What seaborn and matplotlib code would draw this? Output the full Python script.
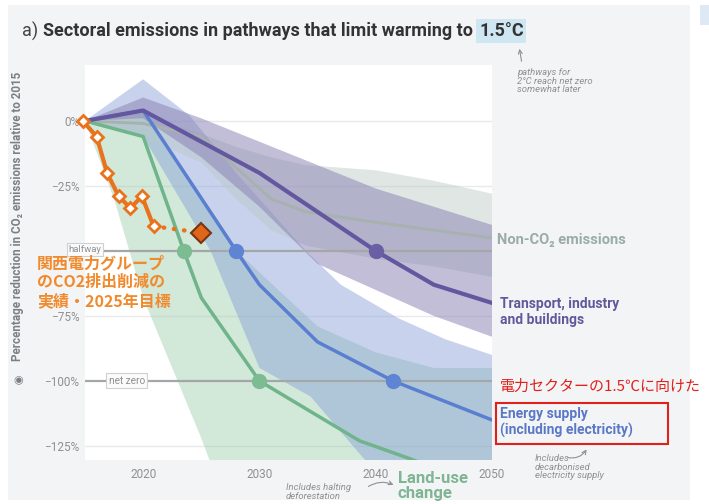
import numpy as np
import pandas as pd
import matplotlib
matplotlib.use("Agg")
import matplotlib.pyplot as plt
from matplotlib.patches import Rectangle, FancyArrowPatch
import seaborn as sns

# --- data (% change in CO2 vs 2015) ---
nonco2_years = [2015, 2020, 2025, 2028, 2031, 2034, 2040, 2045, 2050]
nonco2_mid = [0, -1, -6, -18, -30, -35, -39, -42, -45]
nonco2_hi = [0, 3, -5, -10, -14, -17, -19, -23, -28]
nonco2_lo = [0, -6, -16, -30, -42, -48, -53, -56, -60]

tib_years = [2015, 2020, 2030, 2040, 2045, 2050]
tib_mid = [0, 4, -20, -50, -63, -70]
tib_band_years = [2015, 2020, 2025, 2030, 2035, 2040, 2045, 2050]
tib_hi = [0, 9, 1, -8, -17, -26, -33, -40]
tib_lo = [0, 1, -14, -33, -55, -65, -75, -83]

energy_years = [2015, 2020, 2028, 2030, 2035, 2041.5, 2050]
energy_mid = [0, 4, -50, -63, -85, -100, -115]
energy_hi_years = [2015, 2020, 2024, 2028, 2034, 2037, 2042, 2046, 2050]
energy_hi = [0, 16, 2, -20, -50, -63, -76, -84, -90]
energy_lo_years = [2015, 2020, 2025.8, 2030, 2034.4, 2039, 2050]
energy_lo = [0, -6, -50, -95, -106, -130, -160]

land_years = [2015, 2020, 2023.5, 2025, 2030, 2038.6, 2043, 2050]
land_mid = [0, -6, -50, -68, -100, -123, -130, -142]
land_hi_years = [2015, 2020, 2024, 2028.5, 2035, 2040, 2045, 2050]
land_hi = [0, 3, -22, -52, -79, -89, -95, -95]
land_lo_years = [2015, 2017.5, 2020, 2025, 2026.5, 2050]
land_lo = [0, -30, -68, -122, -140, -160]

# milestone dots (halfway / net zero crossings)
land_dot_x = [2023.5, 2030]
land_dot_y = [-50, -100]
energy_dot_x = [2028, 2041.5]
energy_dot_y = [-50, -100]
tib_dot_x = [2040]
tib_dot_y = [-50]

# Kansai Electric group record and 2025 target
kansai_years = [2014.8, 2016.0, 2016.9, 2017.9, 2018.9, 2019.9, 2020.9]
kansai_vals = [0, -6, -20, -29, -33.5, -29, -40.5]
target_year = 2025.0
target_val = -43

ytick_vals = [0, -25, -75, -100, -125]
ytick_labels = ["0%", "\u221225%", "\u221275%", "\u2212100%", "\u2212125%"]
xtick_vals = [2020, 2030, 2040, 2050]

W, H = 709, 504


def px(x):
    return x / W


def py(y):
    return 1 - y / H


sns.set_theme(style="white")
plt.rcParams['font.family'] = ['Roboto', 'DejaVu Sans']
jp = ['Noto Sans CJK JP', 'DejaVu Sans']

fig = plt.figure(figsize=(7.09, 5.04), dpi=100, facecolor="white")
# grey panel + little blue box at top right
fig.add_artist(Rectangle((px(8), py(500)), px(682), 495 / H, transform=fig.transFigure,
                         fc="#f3f4f6", ec="none", zorder=0))
fig.add_artist(Rectangle((px(700), py(25)), px(9), 20 / H, transform=fig.transFigure,
                         fc="#dde9f5", ec="none", zorder=0))

ax = fig.add_axes([px(85), py(460), px(492 - 85), (460 - 65) / H])
ax.set_facecolor("white")
ax.set_xlim(2015, 2050)
ax.set_ylim(-130.4, 21.5)
for s in ax.spines.values():
    s.set_visible(False)

# light grid
for v in [0, -25, -75, -125]:
    ax.axhline(v, color="#e9eaec", lw=1, zorder=0.5)


def band(xu, yu, xl, yl, color, alpha):
    xs = np.concatenate([xu, xl[::-1]])
    ys = np.concatenate([yu, yl[::-1]])
    ax.fill(xs, ys, color=color, alpha=alpha, lw=0, zorder=1)


band(land_hi_years, land_hi, land_lo_years, land_lo, "#9dccab", 0.45)
band(energy_hi_years, energy_hi, energy_lo_years, energy_lo, "#859dd9", 0.45)
band(nonco2_years, nonco2_hi, nonco2_years, nonco2_lo, "#b9c9c5", 0.45)
band(tib_band_years, tib_hi, tib_band_years, tib_lo, "#897fb3", 0.5)

# halfway / net zero reference lines
ax.axhline(-50, color="#a3a7a7", lw=1.6, zorder=2)
ax.axhline(-100, color="#a3a7a7", lw=1.6, zorder=2)

sns.lineplot(x=nonco2_years, y=nonco2_mid, ax=ax, color="#a7b1ad", lw=2, zorder=3)
sns.lineplot(x=land_years, y=land_mid, ax=ax, color="#6fb48a", lw=2.5, zorder=3)
sns.lineplot(x=energy_years, y=energy_mid, ax=ax, color="#5a7fd0", lw=2.5, zorder=3)
sns.lineplot(x=tib_years, y=tib_mid, ax=ax, color="#63589f", lw=3, zorder=3)

ax.plot(land_dot_x, land_dot_y, "o", color="#7dbb93", ms=10, zorder=4)
ax.plot(energy_dot_x, energy_dot_y, "o", color="#5f84d3", ms=10, zorder=4)
ax.plot(tib_dot_x, tib_dot_y, "o", color="#6a5fa5", ms=10, zorder=4)

# Kansai overlay
ax.plot([kansai_years[-1], target_year], [kansai_vals[-1], target_val], ls=(0, (0.1, 2.2)),
        dash_capstyle="round", color="#e8731c", lw=3.2, zorder=5, clip_on=False)
sns.lineplot(x=kansai_years, y=kansai_vals, ax=ax, color="#e8731c", lw=3, zorder=5,
             marker="D", markersize=6.5, markerfacecolor="white", markeredgecolor="#e8731c",
             markeredgewidth=2, clip_on=False)
ax.plot([target_year], [target_val], "D", ms=10, mfc="#e0661a", mec="#7a3410", mew=1.5,
        zorder=6)

# labelled reference lines
ax.text(2015.0, -49.5, "halfway", ha="center", va="center", fontsize=6.8, color="#8e9092",
        bbox=dict(boxstyle="square,pad=0.2", fc="#fbfbfb", ec="#cfd0d2", lw=0.8),
        zorder=4, clip_on=False)
ax.text(2018.6, -100, "net zero", ha="center", va="center", fontsize=7.2, color="#8e9092",
        bbox=dict(boxstyle="square,pad=0.25", fc="#fbfbfb", ec="#cfd0d2", lw=0.8), zorder=4)

ax.set_yticks(ytick_vals)
ax.set_yticklabels(ytick_labels)
ax.set_xticks(xtick_vals)
ax.tick_params(axis="both", length=0, labelsize=8.5, labelcolor="#8e9092")
ax.tick_params(axis="y", pad=4)
ax.tick_params(axis="x", pad=6)
ax.set_xlabel("")
ax.set_ylabel("")
ax.grid(False)

# title
t1 = fig.text(px(22), py(31), "a)", fontsize=13, color="#444444", va="center")
fig.canvas.draw()
bb = t1.get_window_extent()
t2 = fig.text(bb.x1 / W + px(5), py(31), "Sectoral emissions in pathways that limit warming to",
              fontsize=13, fontweight="bold", color="#333333", va="center")
fig.canvas.draw()
bb = t2.get_window_extent()
fig.text(bb.x1 / W + px(6), py(31), "1.5°C", fontsize=13, fontweight="bold", color="#333333",
         va="center", bbox=dict(boxstyle="square,pad=0.15", fc="#cfe6f3", ec="none"))

# y label
fig.text(px(18), py(216), "Percentage reduction in CO\u2082 emissions relative to 2015", rotation=90,
         ha="center", va="center", fontsize=8.4, fontweight="bold", color="#7d8083")
fig.text(px(18), py(380), "\u25c9", ha="center", va="center", fontsize=8, color="#7d8083",
         family=['DejaVu Sans'])

# sector labels
fig.text(px(497), py(240), "Non-CO\u2082 emissions", fontsize=10.5, fontweight="bold",
         color="#9aaca5", va="center")
fig.text(px(500), py(312), "Transport, industry\nand buildings", fontsize=10, fontweight="bold",
         color="#62579a", va="center", linespacing=1.15)
fig.text(px(500), py(422.5), "Energy supply\n(including electricity)", fontsize=10,
         fontweight="bold", color="#5b78c6", va="center", linespacing=1.15)
fig.text(px(398), py(486), "Land-use\nchange", fontsize=12, fontweight="bold", color="#7fb592",
         va="center", linespacing=0.95)
fig.add_artist(Rectangle((px(496), py(444)), px(172), 41 / H, transform=fig.transFigure,
                         fill=False, ec="#e0201b", lw=1.5))
fig.text(px(500), py(387), "電力セクターの1.5℃に向けた", fontsize=10.8, color="#e0201b",
         va="center", family=jp)
fig.text(px(37), py(282), "関西電力グループ\nのCO2排出削減の\n実績・2025年目標", fontsize=11.5,
         fontweight="bold", color="#f08a2c", va="center", linespacing=1.22, family=jp)

# small notes
note = dict(fontsize=6.8, fontstyle="italic", color="#8f9092", va="center")
fig.text(px(517), py(81), "pathways for\n2°C reach net zero\nsomewhat later", linespacing=0.95,
         **note)
fig.text(px(286), py(492), "Includes halting\ndeforestation", linespacing=0.95, **note)
fig.text(px(535), py(467), "Includes\ndecarbonised\nelectricity supply", linespacing=0.95,
         **note)
fig.add_artist(FancyArrowPatch((px(522), py(64)), (px(519), py(46)),
               transform=fig.transFigure, arrowstyle="->", mutation_scale=7, color="#8f9092",
               lw=0.8))
fig.add_artist(FancyArrowPatch((px(366), py(488)), (px(396), py(486)),
               transform=fig.transFigure, arrowstyle="->", mutation_scale=7, color="#8f9092",
               lw=0.8, connectionstyle="arc3,rad=-0.3"))
fig.add_artist(FancyArrowPatch((px(565), py(457)), (px(588), py(447)),
               transform=fig.transFigure, arrowstyle="->", mutation_scale=7, color="#8f9092",
               lw=0.8, connectionstyle="arc3,rad=0.4"))

fig.savefig("out.png", dpi=100, facecolor="white")
